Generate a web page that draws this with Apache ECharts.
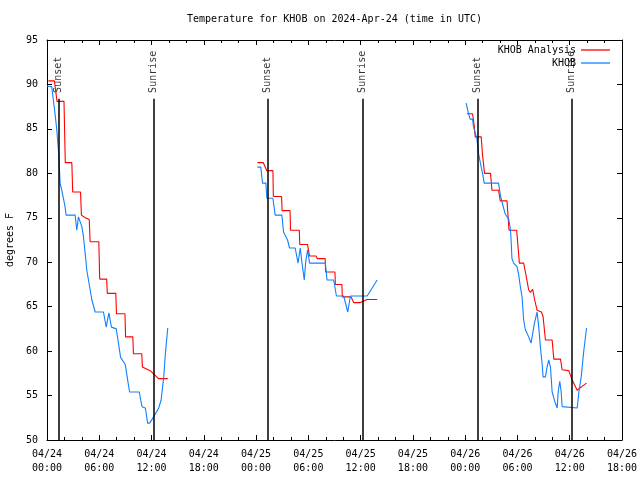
<!DOCTYPE html>
<html>
<head>
<meta charset="utf-8">
<script src="https://cdn.jsdelivr.net/npm/echarts@6/dist/echarts.min.js"></script>
<style>html,body{margin:0;padding:0;background:#fff}#c{width:640px;height:480px}</style>
</head>
<body>
<div id="c"></div>
<script>
// ---- data (x in hours since 2024-04-24 00:00 UTC, y in degrees F) ----
const tickDates = ['04/24','04/24','04/24','04/24','04/25','04/25','04/25','04/25','04/26','04/26','04/26','04/26'];
const tickTimes = ['00:00','06:00','12:00','18:00','00:00','06:00','12:00','18:00','00:00','06:00','12:00','18:00'];
const eventNames = ['Sunset','Sunrise','Sunset','Sunrise','Sunset','Sunrise'];
const eventHours = [1.33, 12.24, 25.31, 36.23, 49.42, 60.22];

const redSeg1 = [[0.15,90.4],[0.85,90.4],[1.15,88.1],[1.95,88.1],[2.1,81.2],[2.85,81.2],[2.95,77.9],[3.85,77.9],[3.95,75.3],[4.4,75.0],[4.85,74.8],[4.95,72.3],[5.95,72.3],[6.05,68.1],[6.85,68.1],[6.92,66.5],[7.9,66.5],[7.97,64.2],[8.95,64.2],[9.02,61.6],[9.85,61.6],[9.92,59.7],[10.88,59.7],[10.95,58.2],[11.85,57.8],[12.8,56.9],[13.86,56.9]];
const redSeg2 = [[24.15,81.2],[24.83,81.2],[25.23,80.3],[25.93,80.3],[25.98,77.4],[26.93,77.4],[26.98,75.8],[27.9,75.8],[27.95,73.6],[28.96,73.6],[29.01,72.0],[29.9,72.0],[30.13,70.7],[30.88,70.7],[31.03,70.4],[31.93,70.4],[31.98,68.9],[33.05,68.9],[33.1,67.5],[33.85,67.5],[33.9,66.1],[34.9,66.1],[35.21,65.45],[35.89,65.45],[36.74,65.8],[37.9,65.8]];
const redSeg3 = [[48.19,86.7],[48.84,86.7],[48.95,86.0],[49.03,85.4],[49.15,84.1],[49.84,84.1],[49.99,82.1],[50.22,80.0],[50.91,80.0],[51.07,78.1],[51.83,78.1],[52.03,76.9],[52.8,76.9],[53.03,73.6],[53.91,73.6],[54.22,69.9],[54.71,69.9],[54.91,68.9],[55.29,66.9],[55.48,66.6],[55.75,66.95],[55.98,65.75],[56.25,64.6],[56.75,64.4],[56.94,63.9],[57.21,61.25],[57.98,61.25],[58.17,59.1],[58.94,59.1],[59.13,57.9],[59.89,57.8],[60.28,56.75],[60.86,55.6],[61.36,56.0],[61.93,56.4]];

const blueSeg1 = [[0.0,89.8],[0.54,89.75],[0.73,88.25],[0.92,86.75],[1.12,84.9],[1.23,83.6],[1.38,81.7],[1.5,78.9],[1.69,78.1],[1.88,77.2],[2.07,76.25],[2.19,75.3],[3.23,75.3],[3.42,73.6],[3.61,75.1],[3.8,75.3],[4.0,74.0],[4.18,72.9],[4.38,71.0],[4.57,69.1],[4.76,68.0],[4.95,66.9],[5.15,65.75],[5.53,64.4],[6.48,64.4],[6.8,62.7],[7.1,64.3],[7.4,62.7],[7.95,62.5],[8.45,59.3],[8.98,58.5],[9.25,56.8],[9.48,55.4],[10.6,55.4],[10.71,54.7],[10.91,53.75],[11.29,53.6],[11.55,51.9],[11.78,51.9],[12.24,52.6],[12.82,53.6],[13.1,54.5],[13.4,57.1],[13.59,59.75],[13.86,62.6]];
const blueSeg2 = [[24.15,80.7],[24.54,80.7],[24.74,78.9],[25.12,78.9],[25.24,77.2],[25.93,77.2],[26.19,75.3],[26.96,75.3],[27.15,73.4],[27.61,72.5],[27.84,71.6],[28.49,71.6],[28.81,69.9],[29.07,71.6],[29.27,69.9],[29.53,68.0],[29.68,69.9],[29.91,71.4],[30.14,69.9],[31.95,69.9],[32.14,68.0],[32.91,68.0],[33.22,66.2],[34.06,66.2],[34.52,64.4],[34.83,66.2],[36.75,66.2],[37.9,68.0]];
const blueSeg3 = [[48.11,87.9],[48.38,86.75],[48.57,86.1],[48.85,86.1],[48.95,85.25],[49.34,83.9],[49.53,82.25],[49.8,80.9],[50.03,79.8],[50.18,78.9],[51.83,78.9],[52.03,77.6],[52.22,76.8],[52.41,76.1],[52.6,75.4],[52.98,74.9],[53.18,73.8],[53.26,72.7],[53.37,70.4],[53.56,69.9],[53.95,69.5],[54.14,68.6],[54.33,67.25],[54.53,66.1],[54.71,63.5],[54.91,62.4],[55.29,61.6],[55.56,60.9],[55.94,63.1],[56.25,64.4],[56.44,62.75],[56.63,60.5],[56.83,58.6],[56.94,57.1],[57.21,57.1],[57.41,58.25],[57.59,59.0],[57.79,58.2],[57.98,55.4],[58.17,55.3],[58.36,54.1],[58.56,53.6],[58.67,55.4],[58.86,56.6],[59.02,55.4],[59.13,53.75],[59.25,53.6],[60.86,53.6],[61.05,55.4],[61.32,57.1],[61.62,60.1],[61.93,62.6]];

const redName = 'KHOB Analysis';
const blueName = 'KHOB';

// ---- chart ----
const FONT = 'DejaVu Sans Mono';
const RED = '#ff0000';
const BLUE = '#1080ff';
const txt = {fontFamily: FONT, fontSize: 10, color: '#000'};
const LEGEND_ICON = 'path://M0,0 L29,0 L29,1.3 L0,1.3 Z';

function lineSeries(name, data, color) {
  return {
    type: 'line', name: name, data: data, symbol: 'none', showSymbol: false,
    lineStyle: {color: color, width: 1.1}, itemStyle: {color: color},
    connectNulls: false, silent: true, animation: false
  };
}

const series = [
  lineSeries(redName, redSeg1, RED),
  lineSeries(redName, redSeg2, RED),
  lineSeries(redName, redSeg3, RED),
  lineSeries(blueName, blueSeg1, BLUE),
  lineSeries(blueName, blueSeg2, BLUE),
  lineSeries(blueName, blueSeg3, BLUE),
  {
    type: 'scatter', name: 'events', symbol: 'circle', symbolSize: 1,
    itemStyle: {color: 'rgba(0,0,0,0)'}, silent: true, animation: false,
    data: eventHours.map((h, i) => ({value: [h, 89.05], name: eventNames[i]})),
    label: {
      show: true, formatter: p => p.name, position: 'inside', rotate: 90,
      align: 'left', verticalAlign: 'middle', fontFamily: FONT, fontSize: 10, color: '#000'
    },
    markLine: {
      silent: true, animation: false, symbol: ['none', 'none'],
      lineStyle: {color: '#000', width: 1.5, type: 'solid'},
      label: {show: false},
      data: eventHours.map(h => [{coord: [h, 88.4]}, {coord: [h, 50]}])
    }
  }
];

const axisCommon = {
  axisLine: {show: true, onZero: false, lineStyle: {color: '#000', width: 1}},
  axisTick: {show: true, inside: true, length: 5, lineStyle: {color: '#000', width: 1}},
  splitLine: {show: false}
};

const option = {
  animation: false,
  backgroundColor: '#fff',
  title: {
    text: 'Temperature for KHOB on 2024-Apr-24 (time in UTC)',
    left: 187, top: 14, padding: 0,
    textStyle: {fontFamily: FONT, fontSize: 10, fontWeight: 'normal', color: '#000'}
  },
  legend: {
    data: [{name: redName, icon: LEGEND_ICON}, {name: blueName, icon: LEGEND_ICON}],
    orient: 'vertical', align: 'right', symbolKeepAspect: true,
    right: 30, top: 45, padding: 0, itemWidth: 29, itemHeight: 10, itemGap: 3,
    selectedMode: false, textStyle: txt
  },
  grid: {left: 47, right: 18, top: 40, bottom: 40, containLabel: false, outerBoundsMode: 'none'},
  xAxis: [
    Object.assign({}, axisCommon, {
      type: 'value', position: 'bottom', min: 0, max: 66, interval: 6,
      minorTick: {show: true, splitNumber: 3, length: 3, lineStyle: {color: '#000'}},
      minorSplitLine: {show: false},
      axisLabel: {
        showMinLabel: true, showMaxLabel: true, margin: 7, lineHeight: 14,
        fontFamily: FONT, fontSize: 10, color: '#000',
        formatter: v => { const i = Math.round(v / 6); return tickDates[i] + '\n' + tickTimes[i]; }
      }
    }),
    Object.assign({}, axisCommon, {
      type: 'value', position: 'top', min: 0, max: 66, interval: 6,
      minorTick: {show: true, splitNumber: 3, length: 3, lineStyle: {color: '#000'}},
      minorSplitLine: {show: false},
      axisLabel: {show: false}
    })
  ],
  yAxis: [
    Object.assign({}, axisCommon, {
      type: 'value', position: 'left', min: 50, max: 95, interval: 5,
      name: 'degrees F', nameLocation: 'middle', nameGap: 32, nameTextStyle: txt,
      axisLabel: {margin: 9, fontFamily: FONT, fontSize: 10, color: '#000'}
    }),
    Object.assign({}, axisCommon, {
      type: 'value', position: 'right', min: 50, max: 95, interval: 5,
      axisLabel: {show: false}
    })
  ],
  series: series
};

const chart = echarts.init(document.getElementById('c'), null, {renderer: 'canvas'});
chart.setOption(option);
</script>
</body>
</html>
